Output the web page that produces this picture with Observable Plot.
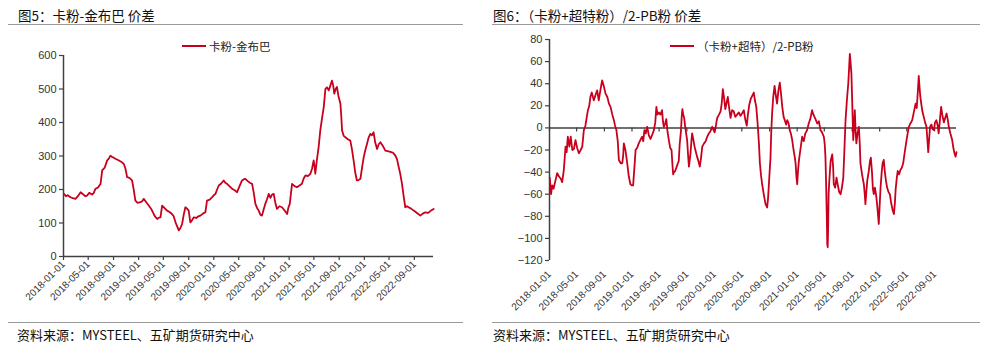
<!DOCTYPE html>
<html>
<head>
<meta charset="utf-8">
<script src="https://cdn.jsdelivr.net/npm/d3@7"></script>
<script src="https://cdn.jsdelivr.net/npm/@observablehq/plot@0.6"></script>
<style>
  html, body { margin: 0; padding: 0; background: #fff; }
  #root { position: relative; width: 989px; height: 352px; overflow: hidden; background: #fff; font-family: "Noto Sans CJK SC", "Noto Sans", sans-serif; }
  .abs { position: absolute; }
  .title { font-size: 13.5px; color: #111; line-height: 16px; white-space: nowrap; }
  .hr { height: 0; border-top: 1.5px solid #9a9a9a; }
  .src { font-size: 13px; color: #111; line-height: 16px; white-space: nowrap; }
  .legend { font-size: 11.5px; color: #222; line-height: 14px; white-space: nowrap; display: flex; align-items: center; }
  .legend .sw { display: inline-block; width: 24px; height: 2px; background: #c8001e; margin-right: 3px; }
</style>
</head>
<body>
<div id="root">
  <div class="abs title" style="left:18px;top:7px">图5：卡粉-金布巴 价差</div>
  <div class="abs hr" style="left:8px;top:24px;width:455px"></div>
  <div class="abs" id="c1" style="left:0px;top:30px"></div>
  <div class="abs legend" style="left:182px;top:39px"><span class="sw"></span><span>卡粉-金布巴</span></div>
  <div class="abs hr" style="left:8px;top:322px;width:455px"></div>
  <div class="abs src" style="left:17px;top:327px">资料来源：MYSTEEL、五矿期货研究中心</div>

  <div class="abs title" style="left:493px;top:7px">图6：（卡粉+超特粉）/2-PB粉 价差</div>
  <div class="abs hr" style="left:492px;top:24px;width:488px"></div>
  <div class="abs" id="c2" style="left:490px;top:30px"></div>
  <div class="abs legend" style="left:670px;top:39px"><span class="sw"></span><span>（卡粉+超特）/2-PB粉</span></div>
  <div class="abs hr" style="left:492px;top:322px;width:488px"></div>
  <div class="abs src" style="left:493px;top:327px">资料来源：MYSTEEL、五矿期货研究中心</div>
</div>
<script>
// ---------- data ----------
const startDate = "2018-01-01";
const xTickLabels = ["2018-01-01","2018-05-01","2018-09-01","2019-01-01","2019-05-01","2019-09-01",
  "2020-01-01","2020-05-01","2020-09-01","2021-01-01","2021-05-01","2021-09-01",
  "2022-01-01","2022-05-01","2022-09-01"];
const leftYTicks = [0, 100, 200, 300, 400, 500, 600];
const rightYTicks = [-120, -100, -80, -60, -40, -20, 0, 20, 40, 60, 80];
const leftSeriesName = "卡粉-金布巴";
const rightSeriesName = "（卡粉+超特）/2-PB粉";

// days since 2018-01-01
const leftDays = [2,12,20,34,45,58,70,83,95,105,115,125,139,147,155,168,180,188,200,212,220,228,236,244,252,265,280,293,301,309,320,333,341,349,360,374,382,390,402,414,426,438,446,455,463,471,479,490,503,515,527,535,544,552,560,568,576,584,592,600,608,616,624,633,645,655,665,677,689,697,710,722,730,738,746,754,766,778,786,794,806,819,831,843,855,867,875,883,895,905,916,924,932,940,948,956,964,972,980,988,997,1005,1013,1021,1029,1037,1049,1061,1073,1086,1092,1099,1105,1110,1122,1134,1146,1158,1166,1175,1187,1199,1207,1215,1220,1223,1231,1239,1247,1255,1264,1272,1280,1288,1296,1304,1310,1315,1322,1328,1335,1345,1349,1353,1361,1369,1381,1393,1401,1409,1417,1425,1433,1442,1450,1458,1466,1474,1482,1490,1498,1506,1514,1523,1531,1539,1551,1563,1579,1595,1603,1612,1620,1628,1636,1644,1652,1660,1668,1676,1688,1701,1717,1733,1745,1757,1770,1785,1798];
const leftValues = [187,180,183,177,174,172,180,192,186,180,182,190,185,190,202,206,217,257,265,287,292,301,297,295,292,288,283,276,262,237,235,227,200,167,160,162,165,172,162,152,142,127,118,112,116,117,152,145,137,133,127,120,102,90,78,85,97,125,147,143,137,102,108,117,115,120,122,128,132,167,170,177,183,187,200,212,218,227,220,217,210,202,198,192,210,227,230,232,225,220,217,190,157,145,137,125,122,140,157,170,187,175,185,187,160,142,150,147,138,127,145,157,190,217,210,207,212,217,232,242,240,247,262,287,265,247,290,326,376,410,446,500,505,496,510,525,510,486,500,506,480,456,420,376,360,356,350,346,320,287,250,227,228,232,265,296,318,336,355,366,362,371,340,321,335,341,330,316,314,311,308,301,290,267,245,217,180,147,150,147,143,137,130,122,128,132,130,137,142];

const rightDays = [1,7,12,18,27,34,42,50,56,63,71,76,81,88,94,101,108,115,122,130,138,145,152,159,165,170,176,181,187,196,204,211,218,226,233,240,248,256,263,270,278,285,290,296,302,307,315,322,326,329,336,344,351,358,364,370,376,381,388,395,402,410,415,420,426,432,440,447,455,462,468,473,478,484,491,498,502,506,512,517,522,528,534,540,543,547,551,556,563,568,572,576,582,585,588,592,596,601,609,613,617,620,624,628,631,636,642,648,653,659,665,670,676,684,691,698,705,712,720,726,731,737,742,750,757,762,767,772,778,783,789,795,801,808,815,822,830,838,845,852,860,866,873,878,884,890,897,904,909,915,922,927,931,936,941,948,956,963,967,970,974,978,981,985,990,996,1001,1007,1013,1019,1024,1030,1036,1041,1047,1052,1058,1063,1068,1074,1080,1085,1089,1093,1096,1100,1104,1110,1118,1125,1132,1140,1147,1154,1162,1168,1177,1185,1192,1199,1206,1214,1218,1221,1224,1227,1229,1231,1233,1235,1238,1244,1251,1255,1258,1264,1270,1276,1282,1288,1294,1300,1305,1310,1316,1322,1326,1329,1332,1336,1340,1344,1347,1351,1355,1358,1363,1369,1373,1376,1383,1391,1395,1398,1402,1406,1413,1418,1422,1427,1431,1435,1440,1446,1451,1457,1461,1465,1470,1474,1479,1484,1489,1494,1500,1506,1512,1518,1524,1528,1532,1537,1541,1547,1553,1559,1565,1572,1580,1585,1590,1597,1605,1612,1620,1625,1629,1632,1634,1637,1641,1645,1650,1656,1662,1668,1672,1676,1680,1684,1690,1695,1701,1706,1712,1718,1722,1728,1733,1738,1745,1751,1757,1762,1767,1774,1782,1787,1792,1797,1801];
const rightValues = [-45,-60,-52,-55,-47,-41,-44,-46,-49,-39,-17,-22,-8,-17,-8,-20,-19,-11,-18,-23,-20,-17,-2,2,10,16,20,28,32,25,30,34,25,35,43,38,31,28,22,19,12,7,2,-2,-12,-29,-32,-32,-25,-14,-20,-32,-44,-51,-52,-52,-35,-20,-18,-14,-11,-8,-12,-2,-5,1,-7,-10,-6,-2,5,19,12,14,12,16,6,1,4,8,-3,-11,-18,-20,-30,-42,-40,-39,-35,-32,-30,-15,-2,10,17,12,9,0,-11,-24,-35,-30,-23,-12,-5,-10,-17,-22,-26,-30,-35,-28,-17,-14,-12,-8,-5,-3,1,-2,-4,3,9,12,15,22,35,28,17,22,28,18,9,16,15,10,12,14,11,13,16,8,2,12,21,26,29,32,25,19,1,-15,-32,-43,-51,-60,-69,-72,-64,-54,-40,-27,-5,13,28,38,30,22,34,41,32,19,10,7,3,7,4,-2,-5,-11,-20,-26,-32,-45,-51,-38,-29,-20,-8,-12,-5,-2,4,8,16,12,8,4,6,-2,-4,-8,-15,-26,-50,-80,-105,-108,-90,-60,-48,-30,-24,-35,-51,-54,-45,-52,-58,-60,-54,-45,-20,7,25,40,55,67,60,49,20,-11,0,16,-5,-14,-5,1,-15,-32,-42,-51,-60,-69,-58,-48,-39,-30,-27,-40,-55,-60,-54,-62,-72,-87,-70,-54,-40,-32,-29,-40,-48,-54,-58,-60,-68,-74,-78,-69,-55,-45,-39,-42,-38,-36,-32,-22,-11,-5,1,4,7,14,22,18,30,40,47,38,28,22,15,10,5,1,-10,-22,-10,1,3,-1,-2,5,7,2,-5,8,19,12,5,9,13,8,1,-5,-11,-18,-23,-26,-22];

// ---------- build ----------
const t0 = d3.utcParse("%Y-%m-%d")(startDate);
const parse = d3.utcParse("%Y-%m-%d");
const toRows = (days, vals) => days.map((d, i) => ({date: d3.utcDay.offset(t0, d), value: vals[i]}));
const leftData = toRows(leftDays, leftValues);
const rightData = toRows(rightDays, rightValues);
const xTicks = xTickLabels.map(parse);
const fmt = d3.utcFormat("%Y-%m-%d");
const RED = "#c8001e";
const AX = "#404040";
const font = "'Liberation Sans', Arial, sans-serif";

const left = Plot.plot({
  width: 480, height: 290,
  marginLeft: 63, marginRight: 47, marginTop: 25, marginBottom: 64,
  style: {fontFamily: font, color: "#333", background: "transparent", overflow: "visible"},
  x: {type: "utc", domain: [t0, d3.utcDay.offset(t0, 1797)]},
  y: {domain: [0, 600]},
  marks: [
    Plot.axisY({ticks: leftYTicks, tickSize: 4, tickPadding: 3, fontSize: 11, label: null, stroke: AX, strokeWidth: 1.2}),
    Plot.axisX({ticks: xTicks, tickFormat: fmt, tickSize: 4, tickPadding: 2, tickRotate: -45, fontSize: 10, label: null, stroke: AX, strokeWidth: 1.2}),
    Plot.ruleX([t0], {stroke: AX, strokeWidth: 1.5}),
    Plot.ruleY([0], {stroke: AX, strokeWidth: 1.5}),
    Plot.line(leftData, {x: "date", y: "value", stroke: RED, strokeWidth: 1.8})
  ]
});
document.getElementById("c1").appendChild(left);

const zeroTickLen = 3.6; // tick length along the zero line, in data units
const right = Plot.plot({
  width: 490, height: 290,
  marginLeft: 59, marginRight: 24, marginTop: 9, marginBottom: 60,
  style: {fontFamily: font, color: "#333", background: "transparent", overflow: "visible"},
  x: {type: "utc", domain: [t0, d3.utcDay.offset(t0, 1801)]},
  y: {domain: [-120, 80]},
  marks: [
    Plot.axisY({ticks: rightYTicks, tickSize: 4, tickPadding: 3, fontSize: 11, label: null, stroke: AX, strokeWidth: 1.2}),
    Plot.axisX({ticks: xTicks, tickFormat: fmt, tickSize: 0, tickPadding: 12, tickRotate: -45, fontSize: 10, label: null}),
    Plot.ruleX([t0], {stroke: AX, strokeWidth: 1.5}),
    Plot.ruleY([0], {stroke: AX, strokeWidth: 1.5}),
    Plot.ruleX(xTicks, {x: d => d, y1: 0, y2: -zeroTickLen, stroke: AX, strokeWidth: 1.2}),
    Plot.line(rightData, {x: "date", y: "value", stroke: RED, strokeWidth: 1.8})
  ]
});
document.getElementById("c2").appendChild(right);
</script>
</body>
</html>
